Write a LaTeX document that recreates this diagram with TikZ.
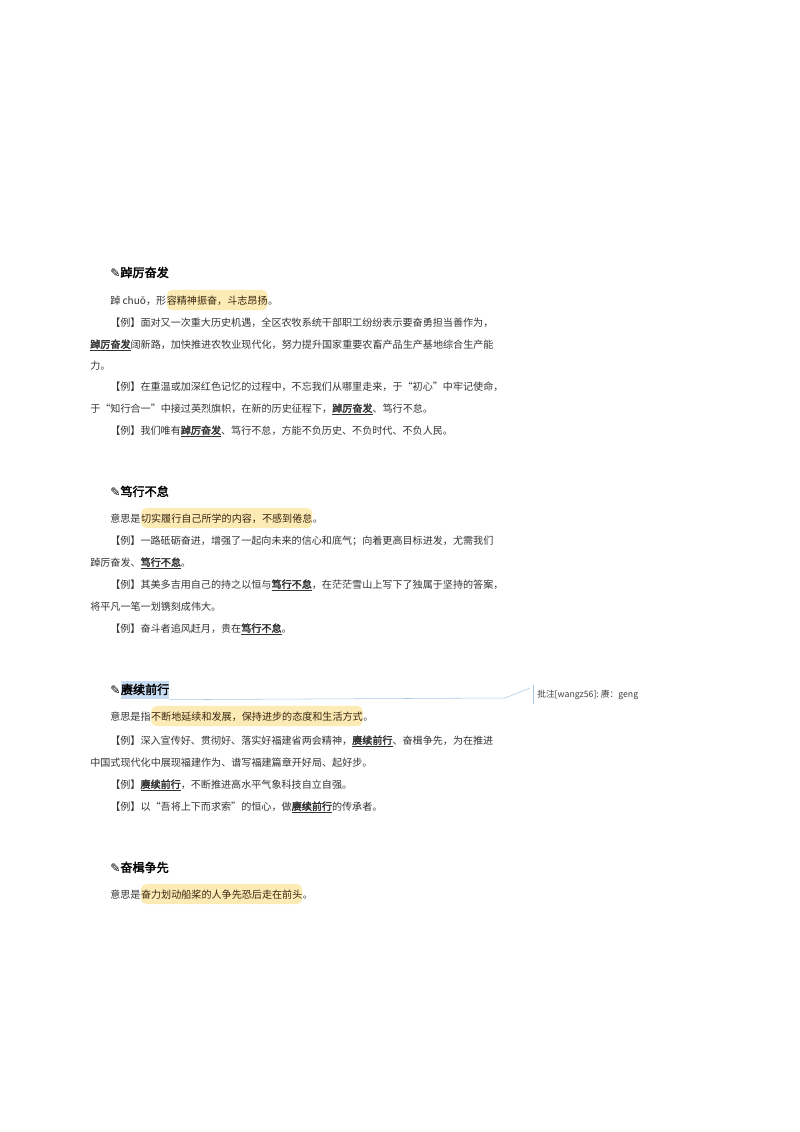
\documentclass[tikz,border=0pt]{standalone}
\usepackage{fontspec}
\setmainfont{Noto Sans CJK SC}[AutoFakeBold=2.5]
\newfontfamily\symf{DejaVu Sans}
\usetikzlibrary{positioning}
\definecolor{hlyel}{HTML}{FCEBB5}
\definecolor{bodytxt}{HTML}{333333}
\definecolor{selblue}{HTML}{C9DDF2}
\definecolor{cmtline}{HTML}{A9C8E8}
\newcommand{\kw}[1]{\underline{\textbf{#1}}}
\tikzset{
  txt/.style={inner sep=0,anchor=west,font=\fontsize{7.5}{9}\selectfont,text=bodytxt,text height=0.8em,text depth=0.2em},
  hl/.style={txt,anchor=base west,fill=hlyel,rounded corners=4pt,inner ysep=2.5pt,text=black!70!brown},
  plain/.style={txt,anchor=base west},
  head/.style={inner sep=0,anchor=west,font=\fontsize{9}{11}\selectfont\bfseries,text height=0.8em,text depth=0.2em}
}
\begin{document}
\begin{tikzpicture}[x=0.744pt,y=-0.744pt]
  \useasboundingbox (0,0) rectangle (800,1132);
  % section 1
  \node[head] (h1) at (110,273) {{\symf ✎}踔厉奋发};
  \node[txt] (m1a) at (110,300) {踔 chuō，形};
  \node[hl] (m1b) at (m1a.base east) {容精神振奋，斗志昂扬};
  \node[plain] (m1c) at (m1b.base east) {。};
  \node[txt] (e1a) at (110,322) {【例】面对又一次重大历史机遇，全区农牧系统干部职工纷纷表示要奋勇担当善作为，};
  \node[txt] (e1b) at (90,344) {\kw{踔厉奋发}阔新路，加快推进农牧业现代化，努力提升国家重要农畜产品生产基地综合生产能};
  \node[txt] (e1c) at (90,365) {力。};
  \node[txt] (e2a) at (110,386) {【例】在重温或加深红色记忆的过程中，不忘我们从哪里走来，于“初心”中牢记使命，};
  \node[txt] (e2b) at (90,408) {于“知行合一”中接过英烈旗帜，在新的历史征程下，\kw{踔厉奋发}、笃行不怠。};
  \node[txt] (e3a) at (110,430) {【例】我们唯有\kw{踔厉奋发}、笃行不怠，方能不负历史、不负时代、不负人民。};
  % section 2
  \node[head] (h2) at (110,492) {{\symf ✎}笃行不怠};
  \node[txt] (m2a) at (110,518) {意思是};
  \node[hl] (m2b) at (m2a.base east) {切实履行自己所学的内容，不感到倦怠};
  \node[plain] (m2c) at (m2b.base east) {。};
  \node[txt] (e4a) at (110,540) {【例】一路砥砺奋进，增强了一起向未来的信心和底气；向着更高目标进发，尤需我们};
  \node[txt] (e4b) at (90,562) {踔厉奋发、\kw{笃行不怠}。};
  \node[txt] (e5a) at (110,584) {【例】其美多吉用自己的持之以恒与\kw{笃行不怠}，在茫茫雪山上写下了独属于坚持的答案，};
  \node[txt] (e5b) at (90,606) {将平凡一笔一划镌刻成伟大。};
  \node[txt] (e6a) at (110,628) {【例】奋斗者追风赶月，贵在\kw{笃行不怠}。};
  % section 3
  \node[head] (h3a) at (110,690) {{\symf ✎}};
  \node[head,anchor=base west,fill=selblue,inner ysep=2pt] (h3b) at (h3a.base east) {赓续前行};
  \node[inner sep=0,anchor=west,font=\fontsize{6.5}{8}\selectfont,text=black!75] (cmt) at (537,695) {批注[wangz56]:~赓：geng};
  \coordinate (bend) at (505,698);
  \coordinate (tip) at (530,688);
  \draw[cmtline,thin] (h3b.south east) -- (bend) -- (tip);
  \draw[cmtline,thin] (533,685) -- (533,704);
  \node[txt] (m3a) at (110,716) {意思是指};
  \node[hl] (m3b) at (m3a.base east) {不断地延续和发展，保持进步的态度和生活方式};
  \node[plain] (m3c) at (m3b.base east) {。};
  \node[txt] (e7a) at (110,740) {【例】深入宣传好、贯彻好、落实好福建省两会精神，\kw{赓续前行}、奋楫争先，为在推进};
  \node[txt] (e7b) at (90,762) {中国式现代化中展现福建作为、谱写福建篇章开好局、起好步。};
  \node[txt] (e8a) at (110,784) {【例】\kw{赓续前行}，不断推进高水平气象科技自立自强。};
  \node[txt] (e9a) at (110,806) {【例】以“吾将上下而求索”的恒心，做\kw{赓续前行}的传承者。};
  % section 4
  \node[head] (h4) at (110,868) {{\symf ✎}奋楫争先};
  \node[txt] (m4a) at (110,894) {意思是};
  \node[hl] (m4b) at (m4a.base east) {奋力划动船桨的人争先恐后走在前头};
  \node[plain] (m4c) at (m4b.base east) {。};
\end{tikzpicture}
\end{document}
